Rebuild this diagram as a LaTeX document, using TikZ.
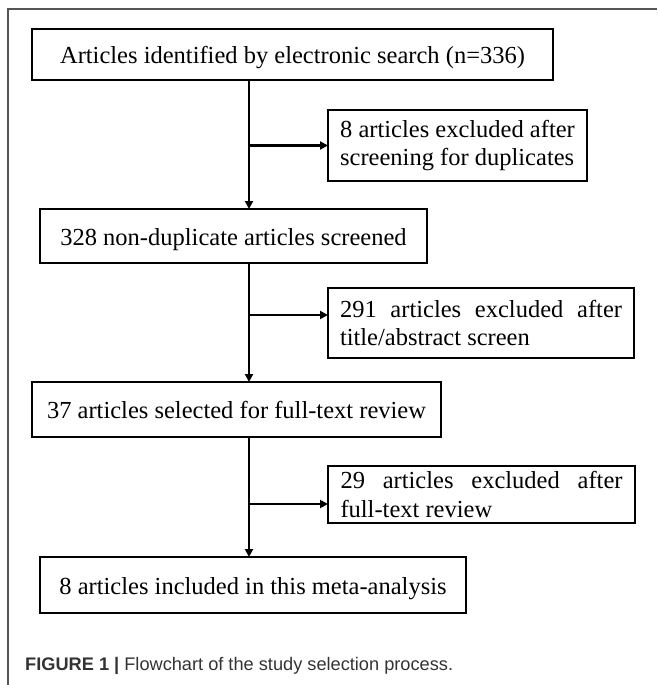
\documentclass[tikz,border=0pt]{standalone}
\usepackage{fontspec}
\setmainfont{Liberation Serif}
\newfontfamily\capfont{Liberation Sans}
\usetikzlibrary{arrows.meta}
\definecolor{framegray}{HTML}{555555}
\definecolor{captext}{HTML}{333333}
\begin{document}
\begin{tikzpicture}[x=1pt,y=-1pt,
  flowbox/.style={draw=black, line width=2.2pt, inner sep=0pt, outer sep=0pt,
    font=\fontsize{24.5}{28.4}\selectfont},
  onebox/.style={flowbox, text height=18pt, text depth=0pt},
  twobox/.style={flowbox, align=left},
  arr/.style={draw=black, line width=2.2pt, -{Triangle[length=8pt,width=8pt]}},
  trunkline/.style={draw=black, line width=2.2pt}]
\useasboundingbox (0,0) rectangle (657,685);
\draw[framegray, line width=1.2pt] (8,685) -- (8,9) -- (657,9);

\node[onebox, minimum width=521pt, minimum height=51pt] (b1) at (292.5,54.5)
  {Articles identified by electronic search (n=336)};
\node[twobox, minimum width=259pt, minimum height=71pt] (b2) at (457.5,145.5)
  {8 articles excluded after\\screening for duplicates};
\node[onebox, minimum width=387pt, minimum height=54pt] (b3) at (233.5,236)
  {328 non-duplicate articles screened};
\node[twobox, minimum width=306pt, minimum height=70pt] (b4) at (481,323)
  {\makebox[282pt][s]{291 articles excluded after}\\title/abstract screen};
\node[onebox, minimum width=409pt, minimum height=55pt] (b5) at (236.5,409.5)
  {37 articles selected for full-text review};
\node[twobox, minimum width=307pt, minimum height=57pt] (b6) at (481.5,494.5)
  {\makebox[282pt][s]{29 articles excluded after}\\full-text review};
\node[onebox, minimum width=426pt, minimum height=56pt] (b7) at (253,585)
  {8 articles included in this meta-analysis};

\coordinate (j1) at (249,145.5);
\coordinate (j2) at (249,315);
\coordinate (j3) at (249,504);

\draw[arr] (b1.south -| j1) -- (b3.north -| j1);
\draw[arr] (b3.south -| j2) -- (b5.north -| j2);
\draw[arr] (b5.south -| j3) -- (b7.north -| j3);
\draw[arr] (j1) -- (j1 -| b2.west);
\draw[arr] (j2) -- (j2 -| b4.west);
\draw[arr] (j3) -- (j3 -| b6.west);

\node[anchor=base west, inner sep=0pt, text=captext,
  font=\capfont\fontsize{18.2}{20}\selectfont] (cap) at (25,670)
  {\textbf{FIGURE 1 |} Flowchart of the study selection process.};
\end{tikzpicture}
\end{document}
